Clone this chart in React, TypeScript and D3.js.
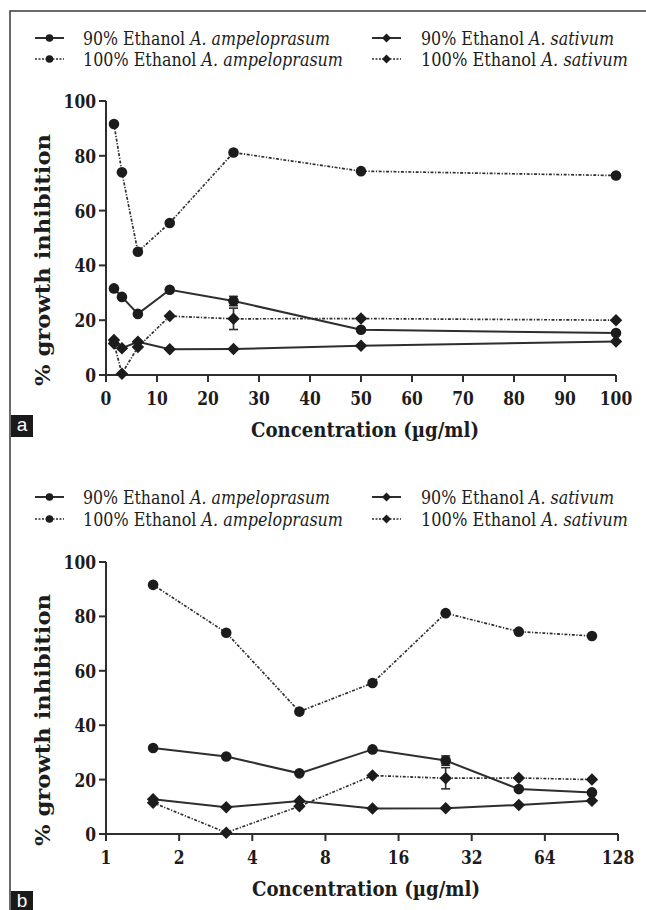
import React from "react";
import * as d3 from "d3";

// concentrations in µg/ml
const concentrations = [1.5625, 3.125, 6.25, 12.5, 25, 50, 100];

// % growth inhibition
const ethanol90Ampeloprasum = [31.6, 28.5, 22.3, 31.1, 27.0, 16.5, 15.3];
const ethanol100Ampeloprasum = [91.6, 74.0, 45.0, 55.5, 81.2, 74.4, 72.8];
const ethanol90Sativum = [12.8, 9.8, 12.1, 9.4, 9.5, 10.7, 12.2];
const ethanol100Sativum = [11.5, 0.5, 10.2, 21.5, 20.5, 20.6, 20.0];

// error bars (only visible at 25 µg/ml)
const ethanol90AmpeloprasumErr = [0, 0, 0, 0, 1.7, 0, 0];
const ethanol100SativumErr = [0, 0, 0, 0, 3.9, 0, 0];

const yTicks = [0, 20, 40, 60, 80, 100];
const linearXTicks = [0, 10, 20, 30, 40, 50, 60, 70, 80, 90, 100];
const logXTicks = [1, 2, 4, 8, 16, 32, 64, 128];

type Marker = "circle" | "diamond";

const series = [
  { pct: "90% Ethanol", species: "A. ampeloprasum", values: ethanol90Ampeloprasum, err: ethanol90AmpeloprasumErr, marker: "circle" as Marker, dotted: false },
  { pct: "90% Ethanol", species: "A. sativum", values: ethanol90Sativum, err: null, marker: "diamond" as Marker, dotted: false },
  { pct: "100% Ethanol", species: "A. ampeloprasum", values: ethanol100Ampeloprasum, err: null, marker: "circle" as Marker, dotted: true },
  { pct: "100% Ethanol", species: "A. sativum", values: ethanol100Sativum, err: ethanol100SativumErr, marker: "diamond" as Marker, dotted: true },
];

const INK = "#1c1c1c";
const LINE = "#2e2e2e";
const DASH = "3,1.6,1.2,1.6";
// only DejaVu Serif renders as a serif here, so widths are pinned with textLength
const SERIF = "DejaVu Serif Condensed, DejaVu Serif, serif";
const legendWidths = [247, 193, 260, 207];

const MarkerShape = ({ type, x, y, r }: { type: Marker; x: number; y: number; r: number }) =>
  type === "circle" ? (
    <circle cx={x} cy={y} r={r} fill={INK} />
  ) : (
    <path d={`M${x},${y - r * 1.25}L${x + r * 1.25},${y}L${x},${y + r * 1.25}L${x - r * 1.25},${y}Z`} fill={INK} />
  );

interface PanelProps {
  log: boolean;
  yZero: number;
  yHundred: number;
  legendY: [number, number];
  letter: string;
  letterY: number;
}

const Panel = ({ log, yZero, yHundred, legendY, letter, letterY }: PanelProps) => {
  const x0 = 106;
  const x1 = log ? 618 : 616;
  const x = log
    ? d3.scaleLog().base(2).domain([1, 128]).range([x0, x1])
    : d3.scaleLinear().domain([0, 100]).range([x0, x1]);
  const y = d3.scaleLinear().domain([0, 100]).range([yZero, yHundred]);
  const xTicks = log ? logXTicks : linearXTicks;

  const line = d3
    .line<number>()
    .x((_, i) => x(concentrations[i]))
    .y((d) => y(d));

  const cols = [
    { sx: 35, tx: 83 },
    { sx: 372, tx: 421 },
  ];

  return (
    <g>
      {/* legend */}
      {series.map((s, i) => {
        const c = cols[i % 2];
        const ly = legendY[Math.floor(i / 2)];
        return (
          <g key={i}>
            <line
              x1={c.sx}
              x2={c.sx + 29}
              y1={ly}
              y2={ly}
              stroke={LINE}
              strokeWidth={s.dotted ? 1.5 : 2}
              strokeDasharray={s.dotted ? "2,1.5" : undefined}
            />
            <MarkerShape type={s.marker} x={c.sx + 14.5} y={ly} r={s.marker === "circle" ? 3.8 : 3.6} />
            <text
              x={c.tx}
              y={ly + 6.5}
              fontFamily={SERIF}
              fontSize={18}
              textLength={legendWidths[i]}
              lengthAdjust="spacingAndGlyphs"
              fill={INK}
            >
              {s.pct} <tspan fontStyle="italic">{s.species}</tspan>
            </text>
          </g>
        );
      })}

      {/* axes */}
      <line x1={x0} x2={x0} y1={yZero} y2={yHundred} stroke={LINE} strokeWidth={2} />
      <line x1={x0} x2={x1} y1={yZero} y2={yZero} stroke={LINE} strokeWidth={2} />
      {yTicks.map((t) => (
        <g key={t}>
          <line x1={x0 - 7} x2={x0} y1={y(t)} y2={y(t)} stroke={LINE} strokeWidth={2} />
          <text
            x={x0 - 10}
            y={y(t) + 7}
            textAnchor="end"
            fontFamily={SERIF}
            fontWeight="bold"
            fontSize={19}
            textLength={String(t).length * 10.8}
            lengthAdjust="spacingAndGlyphs"
            fill={INK}
          >
            {t}
          </text>
        </g>
      ))}
      {xTicks.map((t) => (
        <g key={t}>
          <line x1={x(t)} x2={x(t)} y1={yZero} y2={yZero + 7} stroke={LINE} strokeWidth={2} />
          <text
            x={x(t)}
            y={yZero + 30}
            textAnchor="middle"
            fontFamily={SERIF}
            fontWeight="bold"
            fontSize={19}
            textLength={String(t).length * 10.8}
            lengthAdjust="spacingAndGlyphs"
            fill={INK}
          >
            {t}
          </text>
        </g>
      ))}
      <text
        x={(x0 + x1) / 2 + 4}
        y={yZero + 62}
        textAnchor="middle"
        fontFamily={SERIF}
        fontWeight="bold"
        fontSize={21}
        textLength={228}
        lengthAdjust="spacingAndGlyphs"
        fill={INK}
      >
        Concentration (µg/ml)
      </text>
      <text
        transform={`translate(50,${(yZero + yHundred) / 2 + 22}) rotate(-90)`}
        textAnchor="middle"
        fontFamily={SERIF}
        fontWeight="bold"
        fontSize={21}
        textLength={252}
        lengthAdjust="spacingAndGlyphs"
        fill={INK}
      >
        % growth inhibition
      </text>

      {/* series lines */}
      {series.map((s, i) => (
        <path
          key={i}
          d={line(s.values) || ""}
          fill="none"
          stroke={LINE}
          strokeWidth={s.dotted ? 1.7 : 2}
          strokeDasharray={s.dotted ? DASH : undefined}
        />
      ))}

      {/* error bars */}
      {series.map((s, i) =>
        s.err
          ? s.err.map((e, j) =>
              e > 0 ? (
                <g key={`${i}-${j}`} stroke={LINE} strokeWidth={1.6}>
                  <line x1={x(concentrations[j])} x2={x(concentrations[j])} y1={y(s.values[j] - e)} y2={y(s.values[j] + e)} />
                  <line x1={x(concentrations[j]) - 4.5} x2={x(concentrations[j]) + 4.5} y1={y(s.values[j] - e)} y2={y(s.values[j] - e)} />
                  <line x1={x(concentrations[j]) - 4.5} x2={x(concentrations[j]) + 4.5} y1={y(s.values[j] + e)} y2={y(s.values[j] + e)} />
                </g>
              ) : null
            )
          : null
      )}

      {/* markers */}
      {series.map((s, i) =>
        s.values.map((v, j) => (
          <MarkerShape key={`${i}-${j}`} type={s.marker} x={x(concentrations[j])} y={y(v)} r={s.marker === "circle" ? 5.3 : 5} />
        ))
      )}

      {/* panel letter */}
      <rect x={11} y={letterY} width={22} height={22} fill="#1a1a1a" />
      <text x={22} y={letterY + 16} textAnchor="middle" fontFamily="Liberation Sans, Arial, sans-serif" fontSize={19} fill="#fff">
        {letter}
      </text>
    </g>
  );
};

export default function App() {
  return (
    <svg
      width={646}
      height={910}
      style={{ position: "absolute", left: 0, top: 0, background: "#fff" }}
    >
      <rect width={646} height={910} fill="#fff" />
      <path d="M10,910V11H646" fill="none" stroke="#3a3a3a" strokeWidth={1.5} />
      <Panel log={false} yZero={375} yHundred={101} legendY={[38, 59]} letter="a" letterY={415} />
      <Panel log={true} yZero={834} yHundred={562} legendY={[497, 519]} letter="b" letterY={891} />
    </svg>
  );
}
